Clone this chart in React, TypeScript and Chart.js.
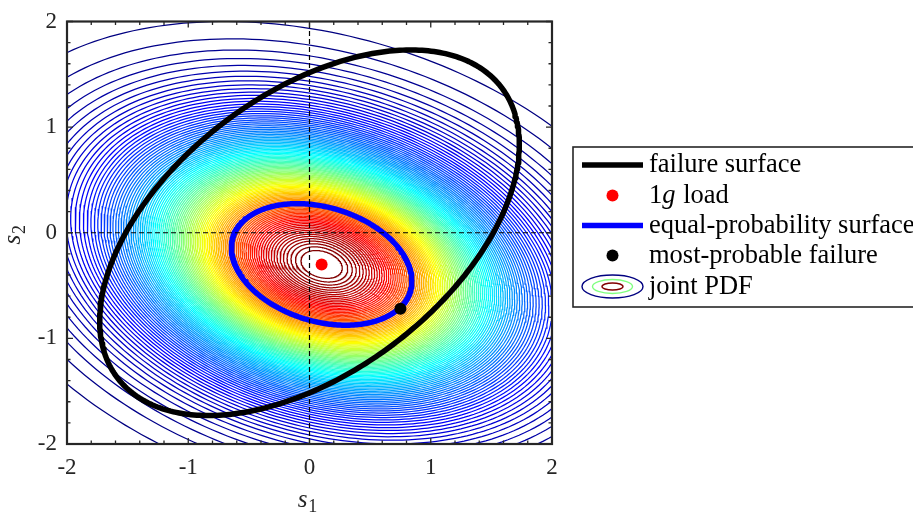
import React, { useEffect, useRef } from "react";
import { Chart, registerables } from "chart.js";

Chart.register(...registerables);

// ---------------- data ----------------
const AXIS_MIN = -2;
const AXIS_MAX = 2;
const X_TICK_VALUES = [-2, -1, 0, 1, 2];
const Y_TICK_VALUES = [-2, -1, 0, 1, 2];
const MINOR_TICK_STEP = 0.2;

// joint PDF (bivariate normal) whose contours are drawn
const PDF_MEAN = [0.1, -0.3];
const PDF_SIGMA = [0.98, 0.758];
const PDF_RHO = -0.269;
const PDF_LEVEL_RANGE = [0.01, 0.985]; // contour levels, fraction of the peak density
const PDF_LEVEL_COUNT = 111;

// equal-probability surface = PDF contour at this Mahalanobis radius
const EQUAL_PROB_BETA = 0.759;

// failure surface (ellipse)
const FAILURE_CENTER = [0, 0];
const FAILURE_SEMI_AXES = [2.107, 1.245];
const FAILURE_ANGLE_DEG = 45;

// points
const LOAD_POINT = [0.1, -0.3];
const MOST_PROBABLE_FAILURE = [0.75, -0.72];

// texts
const LEGEND_LABELS = [
  "failure surface",
  "1g load",
  "equal-probability surface",
  "most-probable failure",
  "joint PDF",
];
const X_TITLE = ["s", "1"];
const Y_TITLE = ["s", "2"];

// ---------------- helpers ----------------
const SERIF = "'Liberation Serif', 'Times New Roman', serif";
const AXIS_COLOR = "#262626";

function jet(t: number): string {
  const c = (v: number) => Math.max(0, Math.min(1, v));
  const r = c(1.5 - Math.abs(4 * t - 3));
  const g = c(1.5 - Math.abs(4 * t - 2));
  const b = c(1.5 - Math.abs(4 * t - 1));
  return `rgb(${Math.round(r * 255)},${Math.round(g * 255)},${Math.round(b * 255)})`;
}

function pdfContour(d: number, n = 240) {
  const pts: { x: number; y: number }[] = [];
  const s = Math.sqrt(1 - PDF_RHO * PDF_RHO);
  for (let i = 0; i <= n; i++) {
    const t = (i / n) * 2 * Math.PI;
    const c = Math.cos(t);
    const sn = Math.sin(t);
    pts.push({
      x: PDF_MEAN[0] + d * PDF_SIGMA[0] * c,
      y: PDF_MEAN[1] + d * PDF_SIGMA[1] * (PDF_RHO * c + s * sn),
    });
  }
  return pts;
}

function failureEllipse(n = 360) {
  const pts: { x: number; y: number }[] = [];
  const phi = (FAILURE_ANGLE_DEG * Math.PI) / 180;
  const [a, b] = FAILURE_SEMI_AXES;
  for (let i = 0; i <= n; i++) {
    const t = (i / n) * 2 * Math.PI;
    pts.push({
      x: FAILURE_CENTER[0] + a * Math.cos(t) * Math.cos(phi) - b * Math.sin(t) * Math.sin(phi),
      y: FAILURE_CENTER[1] + a * Math.cos(t) * Math.sin(phi) + b * Math.sin(t) * Math.cos(phi),
    });
  }
  return pts;
}

// ---------------- plugins ----------------
const framePlugin = {
  id: "frame",
  afterDatasetsDraw(chart: any) {
    const { ctx, chartArea: a, scales } = chart;
    const xs = scales.x;
    const ys = scales.y;
    ctx.save();
    ctx.strokeStyle = AXIS_COLOR;
    ctx.lineWidth = 1.3;
    ctx.beginPath();
    const n = Math.round((AXIS_MAX - AXIS_MIN) / MINOR_TICK_STEP);
    for (let i = 0; i <= n; i++) {
      const v = AXIS_MIN + i * MINOR_TICK_STEP;
      const major = Math.abs(v - Math.round(v)) < 1e-6;
      const len = major ? 6 : 3.5;
      const px = xs.getPixelForValue(v);
      ctx.moveTo(px, a.bottom);
      ctx.lineTo(px, a.bottom - len);
      ctx.moveTo(px, a.top);
      ctx.lineTo(px, a.top + len);
      const py = ys.getPixelForValue(v);
      ctx.moveTo(a.left, py);
      ctx.lineTo(a.left + len, py);
      ctx.moveTo(a.right, py);
      ctx.lineTo(a.right - len, py);
    }
    ctx.stroke();
    ctx.lineWidth = 2.2;
    ctx.strokeRect(a.left, a.top, a.right - a.left, a.bottom - a.top);
    ctx.restore();
  },
  afterDraw(chart: any) {
    const { ctx, chartArea: a } = chart;
    ctx.save();
    ctx.fillStyle = "#262626";
    // x title
    const cx = (a.left + a.right) / 2;
    ctx.font = `italic 25px ${SERIF}`;
    ctx.textBaseline = "alphabetic";
    ctx.textAlign = "left";
    const sw = ctx.measureText(X_TITLE[0]).width;
    const subFont = `18px ${SERIF}`;
    ctx.font = subFont;
    const subw = ctx.measureText(X_TITLE[1]).width;
    const total = sw + subw + 1;
    const x0 = cx - total / 2 - 2;
    ctx.font = `italic 25px ${SERIF}`;
    ctx.fillText(X_TITLE[0], x0, 507);
    ctx.font = subFont;
    ctx.fillText(X_TITLE[1], x0 + sw + 1, 512);
    // y title (rotated)
    const cy = (a.top + a.bottom) / 2;
    ctx.translate(20, cy + total / 2 + 2);
    ctx.rotate(-Math.PI / 2);
    ctx.font = `italic 25px ${SERIF}`;
    ctx.fillText(Y_TITLE[0], 0, 0);
    ctx.font = subFont;
    ctx.fillText(Y_TITLE[1], sw + 1, 5);
    ctx.restore();

    // legend
    ctx.save();
    const bx = 573, by = 147, bw = 360, bh = 160;
    ctx.fillStyle = "#ffffff";
    ctx.fillRect(bx, by, bw, bh);
    ctx.strokeStyle = AXIS_COLOR;
    ctx.lineWidth = 1.6;
    ctx.strokeRect(bx, by, bw, bh);
    const lineY = [165, 195.5, 225.5, 255.5, 286.5];
    const iconL = 582, iconR = 643, iconC = 612.5, textX = 649;
    const txtFont = `26.5px ${SERIF}`;
    ctx.textBaseline = "alphabetic";
    ctx.textAlign = "left";
    LEGEND_LABELS.forEach((label, i) => {
      const ly = lineY[i];
      ctx.save();
      if (i === 0 || i === 2) {
        ctx.strokeStyle = i === 0 ? "#000000" : "#0000ff";
        ctx.lineWidth = 5.5;
        ctx.beginPath();
        ctx.moveTo(iconL, ly);
        ctx.lineTo(iconR, ly);
        ctx.stroke();
      } else if (i === 1 || i === 3) {
        ctx.fillStyle = i === 1 ? "#ff0000" : "#000000";
        ctx.beginPath();
        ctx.arc(iconC, ly, 6, 0, 2 * Math.PI);
        ctx.fill();
      } else {
        const rings: [number, number, string][] = [
          [30.5, 11.5, jet(0)],
          [20, 7, jet(0.5)],
          [10.5, 3.5, jet(1)],
        ];
        ctx.lineWidth = 1.4;
        rings.forEach(([rx, ry, col]) => {
          ctx.strokeStyle = col;
          ctx.beginPath();
          ctx.ellipse(iconC, ly, rx, ry, 0, 0, 2 * Math.PI);
          ctx.stroke();
        });
      }
      ctx.restore();
      ctx.fillStyle = "#000000";
      const base = ly + 7;
      if (label.startsWith("1g")) {
        ctx.font = txtFont;
        ctx.fillText("1", textX, base);
        const w1 = ctx.measureText("1").width;
        ctx.font = `italic ${txtFont}`;
        ctx.fillText("g", textX + w1, base);
        const w2 = ctx.measureText("g").width;
        ctx.font = txtFont;
        ctx.fillText(label.slice(2), textX + w1 + w2 + 1, base);
      } else {
        ctx.font = txtFont;
        ctx.fillText(label, textX, base);
      }
    });
    ctx.restore();
  },
};

// ---------------- component ----------------
export default function App() {
  const ref = useRef<HTMLCanvasElement | null>(null);

  useEffect(() => {
    document.body.style.margin = "0";
    const canvas = ref.current;
    if (!canvas) return;

    const datasets: any[] = [];
    const [lmin, lmax] = PDF_LEVEL_RANGE;
    for (let k = 0; k < PDF_LEVEL_COUNT; k++) {
      const lev = lmin + ((lmax - lmin) * k) / (PDF_LEVEL_COUNT - 1);
      const d = Math.sqrt(-2 * Math.log(lev));
      datasets.push({
        label: "",
        data: pdfContour(d),
        showLine: true,
        borderColor: jet(k / (PDF_LEVEL_COUNT - 1)),
        borderWidth: 1.25,
        pointRadius: 0,
        tension: 0,
        order: 10,
      });
    }
    datasets.push({
      label: LEGEND_LABELS[0],
      data: failureEllipse(),
      showLine: true,
      borderColor: "#000000",
      borderWidth: 5.5,
      borderCapStyle: "round",
      borderJoinStyle: "round",
      pointRadius: 0,
      order: 6,
    });
    datasets.push({
      label: LEGEND_LABELS[2],
      data: pdfContour(EQUAL_PROB_BETA, 360),
      showLine: true,
      borderColor: "#0000ff",
      borderWidth: 5.5,
      borderCapStyle: "round",
      borderJoinStyle: "round",
      pointRadius: 0,
      order: 5,
    });
    datasets.push({
      label: "x=0",
      data: [
        { x: 0, y: AXIS_MIN },
        { x: 0, y: AXIS_MAX },
      ],
      showLine: true,
      borderColor: "#000000",
      borderWidth: 1.2,
      borderDash: [5, 3],
      pointRadius: 0,
      order: 4,
    });
    datasets.push({
      label: "y=0",
      data: [
        { x: AXIS_MIN, y: 0 },
        { x: AXIS_MAX, y: 0 },
      ],
      showLine: true,
      borderColor: "#000000",
      borderWidth: 1.2,
      borderDash: [5, 3],
      pointRadius: 0,
      order: 4,
    });
    datasets.push({
      label: LEGEND_LABELS[1],
      data: [{ x: LOAD_POINT[0], y: LOAD_POINT[1] }],
      showLine: false,
      pointRadius: 6,
      pointBackgroundColor: "#ff0000",
      pointBorderWidth: 0,
      order: 2,
    });
    datasets.push({
      label: LEGEND_LABELS[3],
      data: [{ x: MOST_PROBABLE_FAILURE[0], y: MOST_PROBABLE_FAILURE[1] }],
      showLine: false,
      pointRadius: 6,
      pointBackgroundColor: "#000000",
      pointBorderWidth: 0,
      order: 1,
    });

    const tickFont = { family: SERIF, size: 23, lineHeight: 1 };
    const chart = new Chart(canvas, {
      type: "scatter",
      data: { datasets },
      options: {
        animation: false,
        responsive: false,
        events: [],
        layout: { padding: { left: 0, right: 361, top: 13, bottom: 0 } },
        plugins: {
          legend: { display: false },
          tooltip: { enabled: false },
        },
        scales: {
          x: {
            type: "linear",
            min: AXIS_MIN,
            max: AXIS_MAX,
            grid: { display: false, drawTicks: false },
            border: { display: false },
            afterBuildTicks: (s: any) => {
              s.ticks = X_TICK_VALUES.map((v) => ({ value: v }));
            },
            afterFit: (s: any) => {
              s.height = 72;
            },
            ticks: {
              font: tickFont,
              color: AXIS_COLOR,
              padding: 12,
              maxRotation: 0,
              autoSkip: false,
              callback: (v: any) => String(v),
            },
          },
          y: {
            type: "linear",
            min: AXIS_MIN,
            max: AXIS_MAX,
            grid: { display: false, drawTicks: false },
            border: { display: false },
            afterBuildTicks: (s: any) => {
              s.ticks = Y_TICK_VALUES.map((v) => ({ value: v }));
            },
            afterFit: (s: any) => {
              s.width = 67;
            },
            ticks: {
              font: tickFont,
              color: AXIS_COLOR,
              padding: 10,
              autoSkip: false,
              callback: (v: any) => String(v),
            },
          },
        },
      },
      plugins: [framePlugin],
    } as any);

    return () => chart.destroy();
  }, []);

  return (
    <div style={{ width: 913, height: 516, background: "#ffffff" }}>
      <canvas ref={ref} width={913} height={516} style={{ display: "block" }} />
    </div>
  );
}
